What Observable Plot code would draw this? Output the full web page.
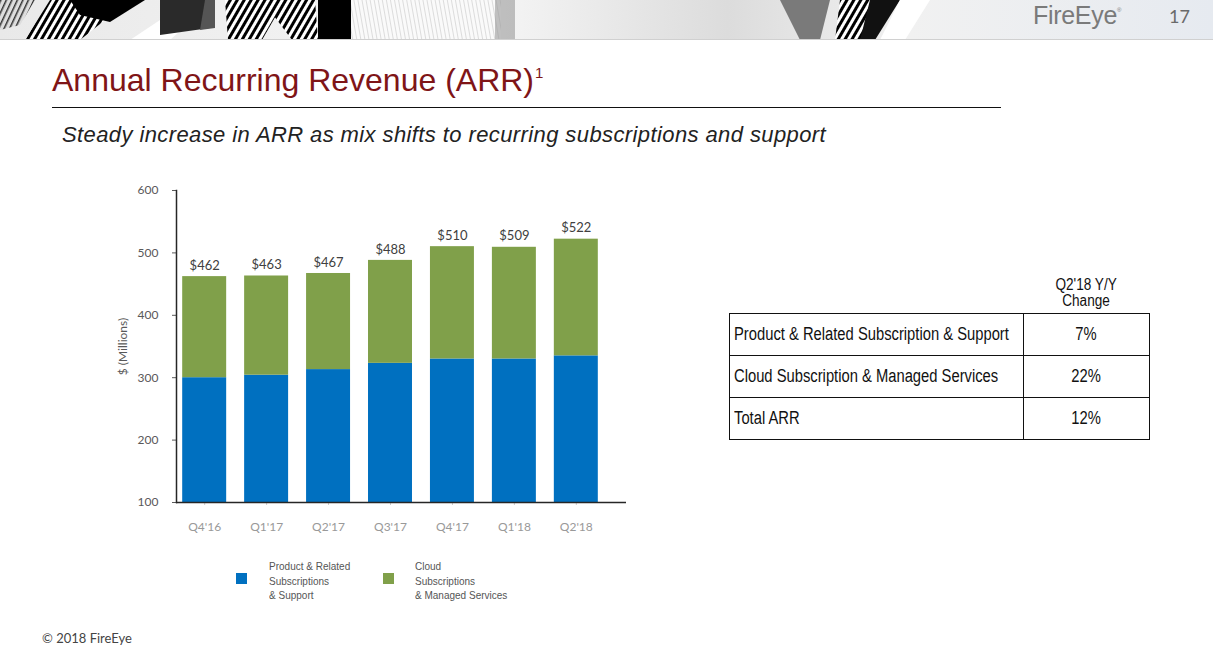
<!DOCTYPE html>
<html>
<head>
<meta charset="utf-8">
<script src="https://cdn.jsdelivr.net/npm/d3@7"></script>
<script src="https://cdn.jsdelivr.net/npm/@observablehq/plot@0.6"></script>
<style>
  html, body { margin: 0; padding: 0; background: #fff; }
  body { width: 1213px; height: 665px; position: relative; overflow: hidden; font-family: "Liberation Sans", Arial, sans-serif; }
  .abs { position: absolute; }
  #banner { left: 0; top: 0; width: 1213px; height: 40px; }
  #logo { left: 1033px; top: 1px; font-size: 25px; color: #7a7a7a; letter-spacing: -0.3px; }
  #logo sup { font-size: 6px; vertical-align: top; position: relative; top: 6px; }
  #page { left: 1169px; top: 5px; font-size: 18px; color: #6a6a6a; font-family: "Lato", sans-serif; }
  #title { left: 52px; top: 62px; font-size: 32px; color: #7f1517; white-space: nowrap; }
  #title sup { font-size: 15px; vertical-align: top; position: relative; top: 2px; left: 1px; }
  #rule { left: 52px; top: 107px; width: 949px; height: 0; border-top: 1.5px solid #111; }
  #subtitle { left: 62px; top: 122px; font-size: 22px; font-style: italic; color: #222; white-space: nowrap; letter-spacing: 0.4px; }
  #chart { left: 100px; top: 180px; }
  .leg { font-size: 11.5px; color: #555; line-height: 14.5px; white-space: nowrap; transform: scaleX(0.87); transform-origin: left top; }
  .sw { width: 11px; height: 11px; }
  .hd { left: 1023px; width: 126px; text-align: center; font-size: 16px; line-height: 16px; color: #111; white-space: nowrap; }
  .hd span { display: inline-block; transform: scaleX(0.85); }
  table { border-collapse: collapse; table-layout: fixed; width: 420px; font-size: 18px; color: #111; }
  tr { height: 42px; }
  td { border: 1.5px solid #111; padding: 0 4px; white-space: nowrap; overflow: visible; }
  td.v { text-align: center; }
  td span { display: inline-block; }
  td.l span { transform: scaleX(0.82); transform-origin: left center; }
  td.v span { transform: scaleX(0.82); transform-origin: center center; }
  #footer { left: 42px; top: 630px; font-family: "Lato", sans-serif; font-size: 13px; color: #444; }
</style>
</head>
<body>
<svg id="banner" class="abs" width="1213" height="40" viewBox="0 0 1213 40">
  <defs>
    <linearGradient id="bg" x1="0" x2="1" y1="0" y2="0">
      <stop offset="0" stop-color="#e9e9e9"/>
      <stop offset="0.4" stop-color="#f6f6f6"/>
      <stop offset="0.6" stop-color="#dcdcdc"/>
      <stop offset="0.75" stop-color="#f1f1f1"/>
      <stop offset="1" stop-color="#e6eaf0"/>
    </linearGradient>
    <pattern id="hatch" width="6" height="6" patternUnits="userSpaceOnUse" patternTransform="rotate(30)">
      <rect width="6" height="6" fill="#fff"/>
      <rect width="3" height="6" fill="#000"/>
    </pattern>
    <pattern id="hatch2" width="5" height="5" patternUnits="userSpaceOnUse" patternTransform="rotate(25)">
      <rect width="5" height="5" fill="#ddd"/>
      <rect width="1.5" height="5" fill="#333"/>
    </pattern>
    <pattern id="fine" width="4" height="4" patternUnits="userSpaceOnUse" patternTransform="rotate(-10)">
      <rect width="4" height="4" fill="#fafafa"/>
      <rect width="0.6" height="4" fill="#c8c8c8"/>
    </pattern>
  </defs>
  <rect width="1213" height="40" fill="url(#bg)"/>
  <polygon points="0,0 35,0 20,25 0,30" fill="url(#hatch2)"/>
  <polygon points="50,0 130,0 80,40 25,40" fill="url(#hatch)"/>
  <polygon points="70,0 145,0 110,22 80,15" fill="#000"/>
  <polygon points="130,40 190,0 215,0 170,40" fill="#fff"/>
  <polygon points="160,0 205,0 210,28 160,35" fill="#2a2a2a"/>
  <polygon points="205,0 215,0 215,28 200,30" fill="#555"/>
  <polygon points="225,0 285,0 262,40 228,40" fill="url(#hatch)"/>
  <polygon points="262,0 315,0 318,40 292,40" fill="url(#hatch)"/>
  <rect x="318" y="0" width="33" height="40" fill="#000"/>
  <rect x="351" y="0" width="150" height="40" fill="url(#fine)"/>
  <rect x="495" y="0" width="20" height="40" fill="#9a9a9a" opacity="0.6"/>
  <polygon points="780,0 830,0 820,40 800,40" fill="#7a7a7a"/>
  <polygon points="840,0 885,0 860,40 835,40" fill="url(#hatch)"/>
  <polygon points="870,0 900,0 875,40 860,40" fill="#111"/>
  <polygon points="900,0 930,0 905,40 880,40" fill="#ffffff"/>
  <line x1="0" y1="39.5" x2="1213" y2="39.5" stroke="#d0d0d0"/>
</svg>
<div id="logo" class="abs">FireEye<sup>®</sup></div>
<div id="page" class="abs">17</div>

<div id="title" class="abs">Annual Recurring Revenue (ARR)<sup>1</sup></div>
<div id="rule" class="abs"></div>
<div id="subtitle" class="abs">Steady increase in ARR as mix shifts to recurring subscriptions and support</div>

<div id="chart" class="abs"></div>

<div class="abs sw" style="left:236px;top:573px;background:#0070c0"></div>
<div class="abs leg" style="left:269px;top:559px">Product &amp; Related<br>Subscriptions<br>&amp; Support</div>
<div class="abs sw" style="left:383px;top:573px;background:#80a04a"></div>
<div class="abs leg" style="left:415px;top:559px">Cloud<br>Subscriptions<br>&amp; Managed Services</div>

<div class="abs hd" style="top:277px"><span>Q2'18 Y/Y</span></div>
<div class="abs hd" style="top:293px"><span>Change</span></div>
<div class="abs" style="left:729px;top:313px">
  <table id="tbl"><colgroup><col style="width:294px"><col style="width:126px"></colgroup></table>
</div>

<div id="footer" class="abs">© 2018 FireEye</div>

<script>
// ---- Data ----
const quarters = ["Q4'16", "Q1'17", "Q2'17", "Q3'17", "Q4'17", "Q1'18", "Q2'18"];
const productSupport = [300, 304, 313, 323, 330, 330, 335];
const cloudManaged = [162, 159, 154, 165, 180, 179, 187];
const totals = [462, 463, 467, 488, 510, 509, 522];
const seriesNames = ["Product & Related Subscriptions & Support", "Cloud Subscriptions & Managed Services"];
const seriesColors = ["#0070c0", "#80a04a"];
const yTicks = [100, 200, 300, 400, 500, 600];

const tableRows = ["Product & Related Subscription & Support", "Cloud Subscription & Managed Services", "Total ARR"];
const tableChanges = ["7%", "22%", "12%"];

// ---- Build table ----
const tbl = document.getElementById("tbl");
tableRows.forEach((r, i) => {
  const tr = document.createElement("tr");
  const a = document.createElement("td"); a.className = "l";
  const sa = document.createElement("span"); sa.textContent = r; a.appendChild(sa);
  const b = document.createElement("td"); b.className = "v";
  const sb = document.createElement("span"); sb.textContent = tableChanges[i]; b.appendChild(sb);
  tr.appendChild(a); tr.appendChild(b); tbl.appendChild(tr);
});

// ---- Chart ----
const stacked = [];
quarters.forEach((q, i) => {
  stacked.push({quarter: q, series: seriesNames[0], value: productSupport[i]});
  stacked.push({quarter: q, series: seriesNames[1], value: cloudManaged[i]});
});
const totalData = quarters.map((q, i) => ({quarter: q, total: totals[i]}));

const chart = Plot.plot({
  width: 540,
  height: 360,
  marginLeft: 76,
  marginRight: 14,
  marginTop: 10,
  marginBottom: 38,
  style: {fontFamily: "Lato, 'Open Sans', sans-serif", fontSize: "12px", color: "#595959", background: "transparent"},
  x: {domain: quarters, paddingInner: 0.29, paddingOuter: 0.1, insetRight: 22, round: false, label: null},
  y: {domain: [100, 600], label: null},
  color: {domain: seriesNames, range: seriesColors},
  marks: [
    Plot.barY(stacked, {x: "quarter", y: "value", fill: "series", order: seriesNames, clip: true}),
    Plot.text(totalData, {x: "quarter", y: "total", text: d => "$" + d.total, dy: -11, fontSize: 13, fill: "#404040"}),
    Plot.axisY({ticks: yTicks, tickSize: 4, tickPadding: 14, tickFormat: d => String(d), label: "$ (Millions)", labelAnchor: "center", labelOffset: 58, labelArrow: "none", color: "#595959"}),
    Plot.axisX({tickSize: 3, tickPadding: 17, color: "#999999", stroke: "#cccccc"}),
    Plot.ruleY([100], {stroke: "#262626", strokeWidth: 1.5}),
    Plot.frame({anchor: "left", stroke: "#262626", strokeWidth: 1.5})
  ]
});
document.getElementById("chart").appendChild(chart);
</script>
</body>
</html>
